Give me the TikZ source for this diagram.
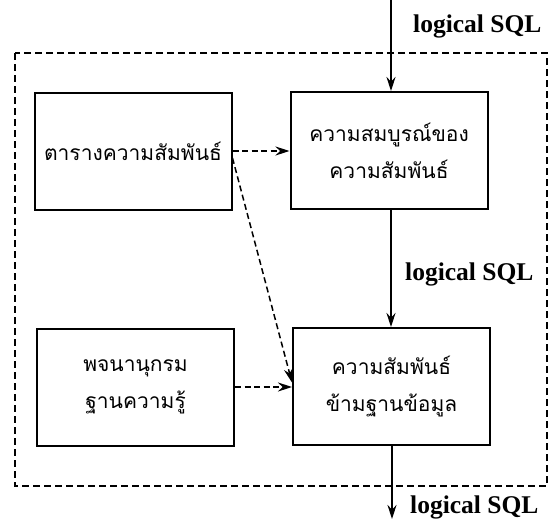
\documentclass[tikz,border=0pt]{standalone}
\usepackage{fontspec}
\setmainfont{Liberation Serif}
\newfontfamily\thaifont[Script=Thai]{Loma}
\usetikzlibrary{arrows.meta}
\begin{document}
\begin{tikzpicture}[x=1pt,y=-1pt,
  box/.style={draw, line width=2pt, minimum width=197pt, minimum height=117pt,
    inner sep=0pt, align=center, font=\thaifont\fontsize{21}{37}\selectfont},
  flow/.style={line width=1.3pt, -{Stealth[length=14pt,width=9pt]}},
  dflow/.style={line width=1.5pt, dash pattern=on 6pt off 3.5pt, -{Stealth[length=14pt,width=9pt]}},
  frame/.style={line width=1.3pt, dash pattern=on 7pt off 4pt},
  sql/.style={font=\bfseries\fontsize{25.5}{28}\selectfont, anchor=base west, inner sep=0pt}]
\useasboundingbox (0,0) rectangle (548,519);

% outer dashed boundary of the subsystem
\draw[frame] (15,53) rectangle (547,486);

% the four processing blocks
\node[box] (b1) at (133,151) {ตารางความสัมพันธ์};
\node[box] (b2) at (389,150.5) {ความสมบูรณ์ของ\\ความสัมพันธ์};
\node[box] (b3) at (135.5,387) {พจนานุกรม\\ฐานความรู้};
\node[box] (b4) at (391.5,386.5) {ความสัมพันธ์\\ข้ามฐานข้อมูล};

% entry and exit points of the query
\coordinate (in) at (391,0);
\coordinate (out) at (392,519);

% solid query flow
\draw[flow] (in) -- (in |- b2.north);
\draw[flow] (in |- b2.south) -- (in |- b4.north);
\draw[flow] (out |- b4.south) -- (out);

% dashed information flow
\draw[dflow] (b1.east) -- (b2.west |- b1.east);
\draw[dflow] ([yshift=-7pt]b1.east) -- ([yshift=4pt]b4.west);
\draw[dflow] (b3.east) -- (b4.west |- b3.east);

% labels
\node[sql] (l1) at (413,33) {logical SQL};
\node[sql] (l2) at (405,280) {logical SQL};
\node[sql] (l3) at (410,513) {logical SQL};
\end{tikzpicture}
\end{document}
